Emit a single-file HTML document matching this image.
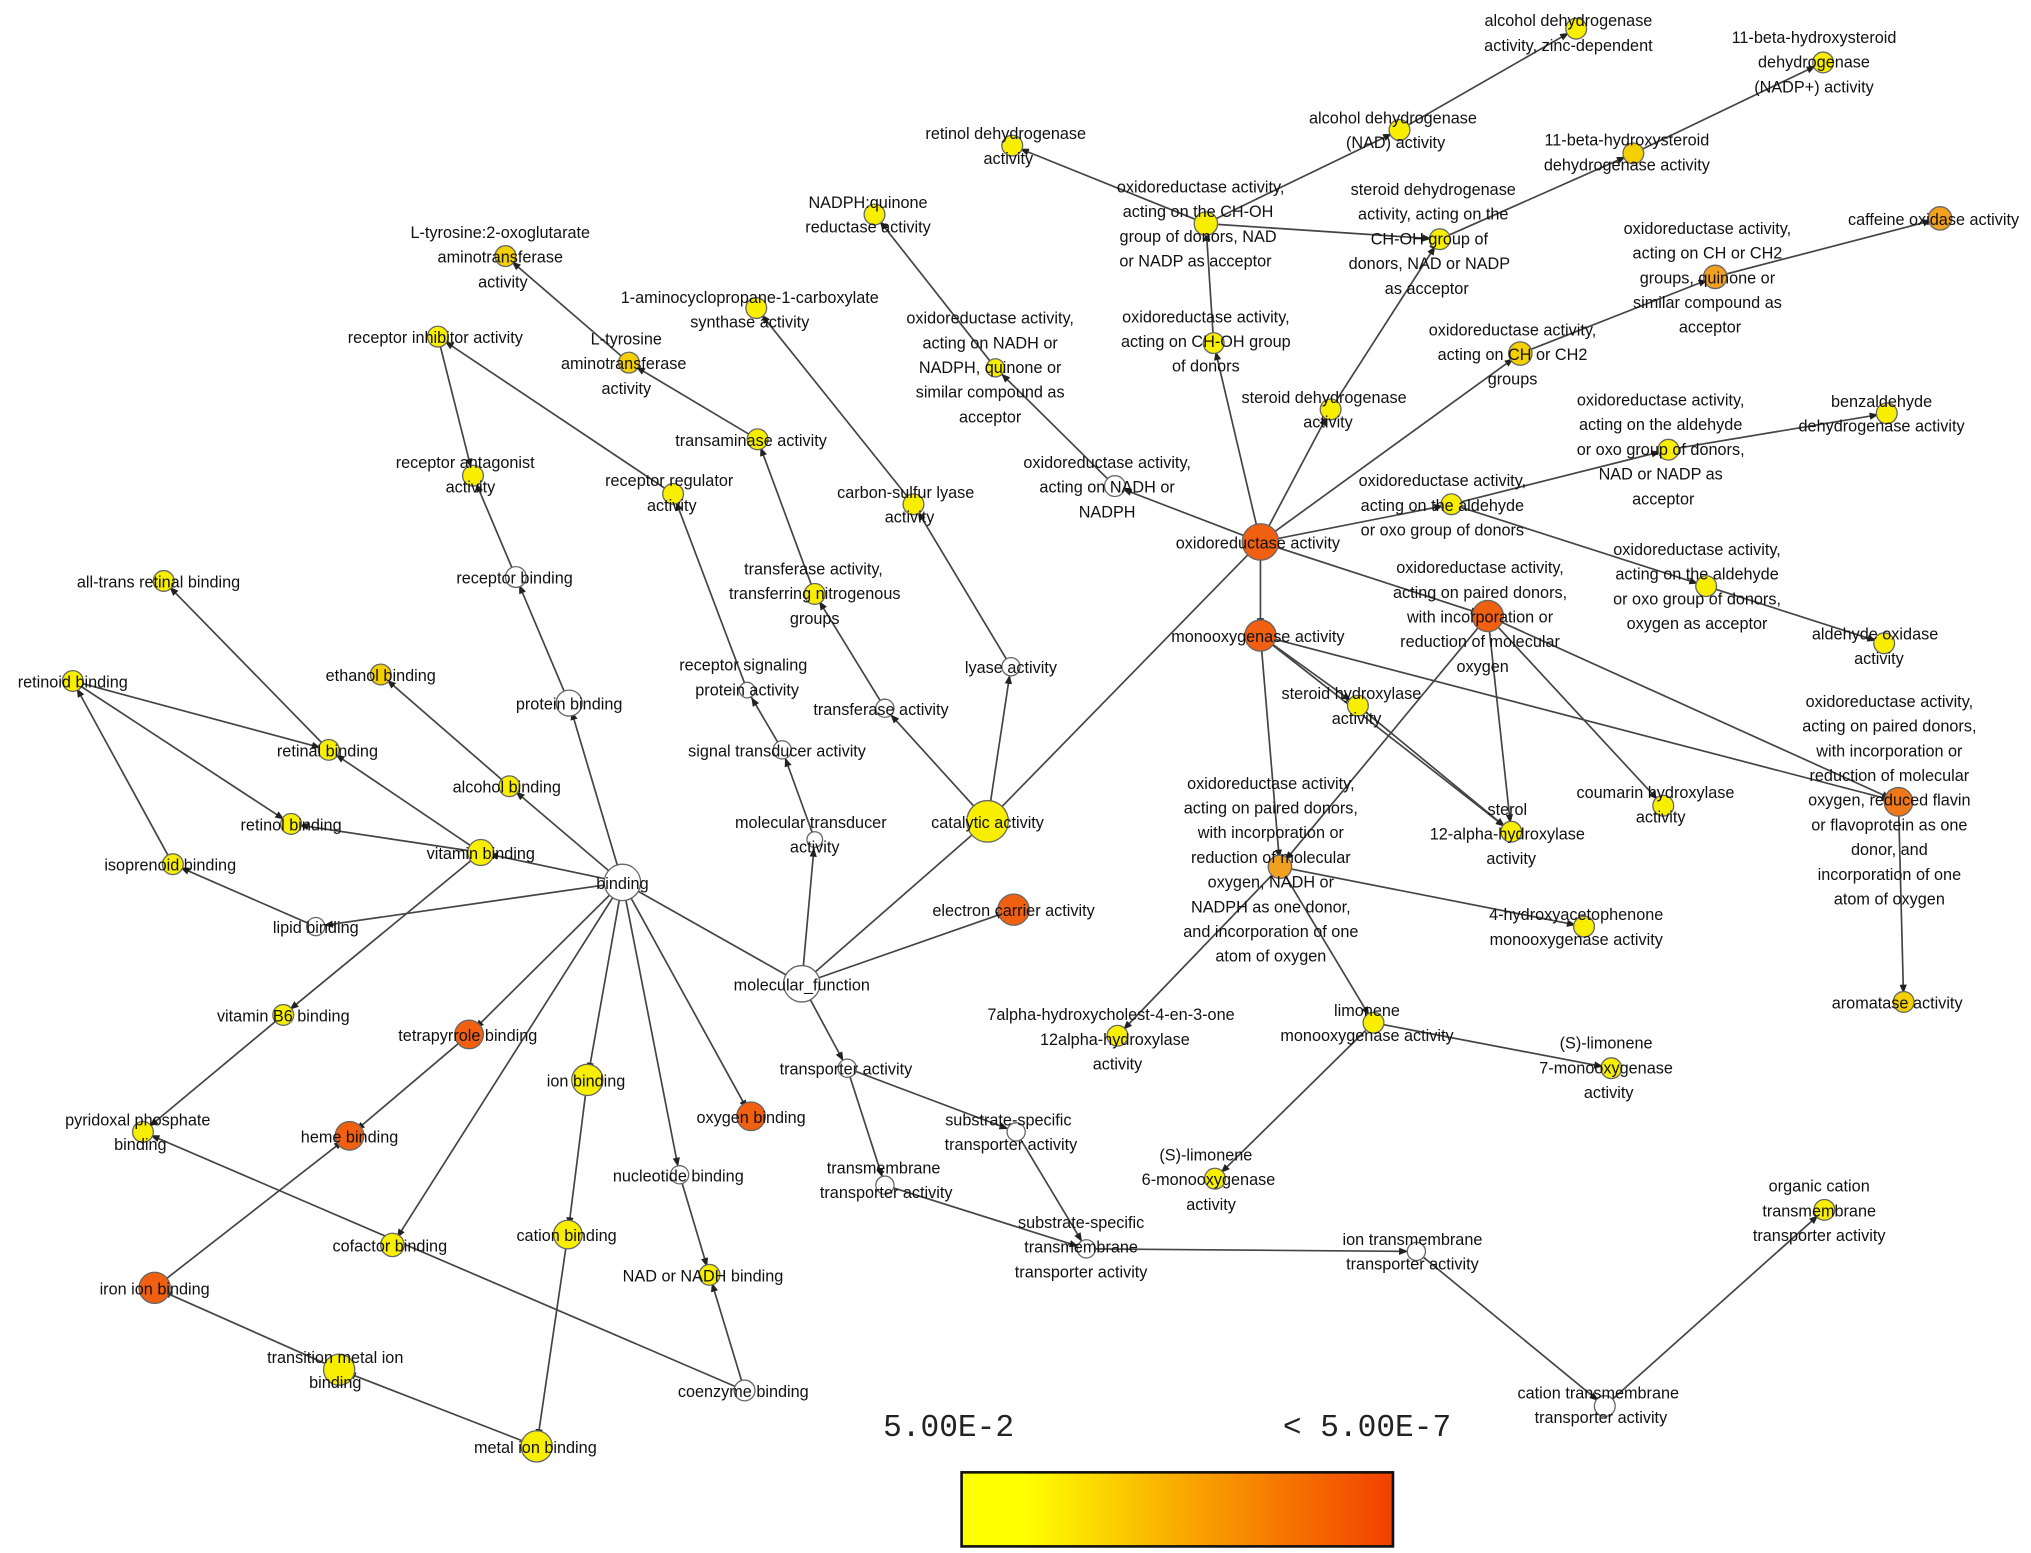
<!DOCTYPE html>
<html><head><meta charset="utf-8"><style>
html,body{margin:0;padding:0;background:#fff;}
svg{display:block}
text{font-family:"Liberation Sans",sans-serif;font-size:12.5px;fill:#111;text-anchor:middle}
line{stroke:#444;stroke-width:1.3}
circle{stroke:#666;stroke-width:1}
.w{fill:#fff}.y{fill:#f7ee00}.y2{fill:#f5d000}.o1{fill:#f2a020}.o{fill:#f06010}.o2{fill:#f07818}
</style></head><body>
<svg width="2031" height="1553" viewBox="0 0 1563 1195" xmlns="http://www.w3.org/2000/svg">
<defs>
<marker id="a" viewBox="0 0 10 10" refX="19" refY="5" markerWidth="7" markerHeight="7" orient="auto" markerUnits="userSpaceOnUse"><path d="M0,1 L10,5 L0,9z" fill="#222"/></marker>
<linearGradient id="g" x1="0" x2="1"><stop offset="0" stop-color="#ffff00"/><stop offset="0.15" stop-color="#ffff00"/><stop offset="0.55" stop-color="#f9a000"/><stop offset="1" stop-color="#f24000"/></linearGradient>
</defs>
<g marker-end="url(#a)">
<line x1="617" y1="757" x2="479" y2="679"/>
<line x1="617" y1="757" x2="760" y2="632"/>
<line x1="617" y1="757" x2="780" y2="700"/>
<line x1="617" y1="757" x2="627" y2="646"/>
<line x1="617" y1="757" x2="652" y2="822"/>
<line x1="479" y1="679" x2="438" y2="541"/>
<line x1="479" y1="679" x2="370" y2="656"/>
<line x1="479" y1="679" x2="392" y2="605"/>
<line x1="479" y1="679" x2="243" y2="713"/>
<line x1="479" y1="679" x2="361" y2="796"/>
<line x1="479" y1="679" x2="452" y2="831"/>
<line x1="479" y1="679" x2="578" y2="859"/>
<line x1="479" y1="679" x2="523" y2="904"/>
<line x1="479" y1="679" x2="302" y2="958"/>
<line x1="361" y1="796" x2="269" y2="874"/>
<line x1="119" y1="991" x2="269" y2="874"/>
<line x1="261" y1="1054" x2="119" y2="991"/>
<line x1="413" y1="1113" x2="261" y2="1054"/>
<line x1="437" y1="950" x2="413" y2="1113"/>
<line x1="452" y1="831" x2="437" y2="950"/>
<line x1="523" y1="904" x2="546" y2="981"/>
<line x1="573" y1="1070" x2="546" y2="981"/>
<line x1="573" y1="1070" x2="110" y2="871"/>
<line x1="218" y1="781" x2="110" y2="871"/>
<line x1="370" y1="656" x2="218" y2="781"/>
<line x1="370" y1="656" x2="253" y2="577"/>
<line x1="370" y1="656" x2="224" y2="634"/>
<line x1="392" y1="605" x2="293" y2="519"/>
<line x1="253" y1="577" x2="126" y2="447"/>
<line x1="56" y1="524" x2="253" y2="577"/>
<line x1="56" y1="524" x2="224" y2="634"/>
<line x1="133" y1="665" x2="56" y2="524"/>
<line x1="243" y1="713" x2="133" y2="665"/>
<line x1="438" y1="541" x2="397" y2="444"/>
<line x1="397" y1="444" x2="364" y2="366"/>
<line x1="337" y1="259" x2="364" y2="366"/>
<line x1="518" y1="380" x2="337" y2="259"/>
<line x1="575" y1="531" x2="518" y2="380"/>
<line x1="602" y1="577" x2="575" y2="531"/>
<line x1="627" y1="646" x2="602" y2="577"/>
<line x1="760" y1="632" x2="681" y2="545"/>
<line x1="760" y1="632" x2="778" y2="513"/>
<line x1="760" y1="632" x2="970" y2="417"/>
<line x1="681" y1="545" x2="627" y2="457"/>
<line x1="627" y1="457" x2="583" y2="338"/>
<line x1="583" y1="338" x2="484" y2="279"/>
<line x1="484" y1="279" x2="389" y2="197"/>
<line x1="778" y1="513" x2="703" y2="388"/>
<line x1="703" y1="388" x2="582" y2="237"/>
<line x1="970" y1="417" x2="858" y2="374"/>
<line x1="858" y1="374" x2="766" y2="283"/>
<line x1="766" y1="283" x2="673" y2="165"/>
<line x1="970" y1="417" x2="934" y2="264"/>
<line x1="934" y1="264" x2="928" y2="172"/>
<line x1="928" y1="172" x2="779" y2="112"/>
<line x1="928" y1="172" x2="1077" y2="100"/>
<line x1="928" y1="172" x2="1108" y2="184"/>
<line x1="1077" y1="100" x2="1213" y2="22"/>
<line x1="1108" y1="184" x2="1257" y2="118"/>
<line x1="1257" y1="118" x2="1403" y2="48"/>
<line x1="970" y1="417" x2="1024" y2="315"/>
<line x1="1024" y1="315" x2="1108" y2="184"/>
<line x1="970" y1="417" x2="1170" y2="272"/>
<line x1="1170" y1="272" x2="1320" y2="213"/>
<line x1="1320" y1="213" x2="1493" y2="168"/>
<line x1="970" y1="417" x2="1117" y2="388"/>
<line x1="1117" y1="388" x2="1284" y2="346"/>
<line x1="1284" y1="346" x2="1452" y2="318"/>
<line x1="1117" y1="388" x2="1313" y2="451"/>
<line x1="1313" y1="451" x2="1450" y2="495"/>
<line x1="970" y1="417" x2="970" y2="489"/>
<line x1="970" y1="417" x2="1145" y2="474"/>
<line x1="970" y1="489" x2="1045" y2="543"/>
<line x1="970" y1="489" x2="985" y2="667"/>
<line x1="970" y1="489" x2="1163" y2="640"/>
<line x1="970" y1="489" x2="1461" y2="617"/>
<line x1="1145" y1="474" x2="1280" y2="620"/>
<line x1="1145" y1="474" x2="1163" y2="640"/>
<line x1="1145" y1="474" x2="985" y2="667"/>
<line x1="1145" y1="474" x2="1461" y2="617"/>
<line x1="1045" y1="543" x2="1163" y2="640"/>
<line x1="1461" y1="617" x2="1465" y2="771"/>
<line x1="985" y1="667" x2="860" y2="797"/>
<line x1="985" y1="667" x2="1219" y2="713"/>
<line x1="985" y1="667" x2="1057" y2="787"/>
<line x1="1057" y1="787" x2="1240" y2="822"/>
<line x1="1057" y1="787" x2="935" y2="907"/>
<line x1="652" y1="822" x2="782" y2="871"/>
<line x1="652" y1="822" x2="681" y2="912"/>
<line x1="782" y1="871" x2="836" y2="961"/>
<line x1="681" y1="912" x2="836" y2="961"/>
<line x1="836" y1="961" x2="1090" y2="963"/>
<line x1="1090" y1="963" x2="1235" y2="1082"/>
<line x1="1235" y1="1082" x2="1404" y2="931"/>
</g>
<g>
<circle class="w" cx="617" cy="757" r="14"/><circle class="w" cx="479" cy="679" r="14"/>
<circle class="y" cx="760" cy="632" r="16"/><circle class="o" cx="970" cy="417" r="14"/>
<circle class="o" cx="970" cy="489" r="12"/><circle class="o" cx="780" cy="700" r="12"/>
<circle class="w" cx="627" cy="646" r="6"/><circle class="w" cx="602" cy="577" r="7"/>
<circle class="w" cx="575" cy="531" r="6"/><circle class="w" cx="681" cy="545" r="7"/>
<circle class="y" cx="627" cy="457" r="8"/><circle class="y" cx="583" cy="338" r="8"/>
<circle class="y2" cx="484" cy="279" r="8"/><circle class="y2" cx="389" cy="197" r="8"/>
<circle class="y" cx="582" cy="237" r="8"/><circle class="w" cx="778" cy="513" r="7"/>
<circle class="y" cx="703" cy="388" r="8"/><circle class="y" cx="673" cy="165" r="8"/>
<circle class="w" cx="858" cy="374" r="8"/><circle class="y" cx="766" cy="283" r="7"/>
<circle class="y" cx="934" cy="264" r="8"/><circle class="y" cx="928" cy="172" r="9"/>
<circle class="y" cx="779" cy="112" r="8"/><circle class="y" cx="1077" cy="100" r="8"/>
<circle class="y" cx="1213" cy="22" r="8"/><circle class="y" cx="1108" cy="184" r="8"/>
<circle class="y2" cx="1257" cy="118" r="8"/><circle class="y" cx="1403" cy="48" r="8"/>
<circle class="y" cx="1024" cy="315" r="8"/><circle class="y2" cx="1170" cy="272" r="9"/>
<circle class="o1" cx="1320" cy="213" r="9"/><circle class="o1" cx="1493" cy="168" r="9"/>
<circle class="y" cx="1117" cy="388" r="8"/><circle class="y" cx="1284" cy="346" r="8"/>
<circle class="y" cx="1452" cy="318" r="8"/><circle class="y" cx="1313" cy="451" r="8"/>
<circle class="y" cx="1450" cy="495" r="8"/><circle class="o" cx="1145" cy="474" r="12"/>
<circle class="o2" cx="1461" cy="617" r="11"/><circle class="y2" cx="1465" cy="771" r="8"/>
<circle class="y" cx="1045" cy="543" r="8"/><circle class="y" cx="1163" cy="640" r="8"/>
<circle class="y" cx="1280" cy="620" r="8"/><circle class="o1" cx="985" cy="667" r="9"/>
<circle class="y" cx="1219" cy="713" r="8"/><circle class="y" cx="860" cy="797" r="8"/>
<circle class="y" cx="1057" cy="787" r="8"/><circle class="y" cx="1240" cy="822" r="8"/>
<circle class="y" cx="935" cy="907" r="8"/><circle class="w" cx="652" cy="822" r="7"/>
<circle class="w" cx="782" cy="871" r="7"/><circle class="w" cx="681" cy="912" r="7"/>
<circle class="w" cx="836" cy="961" r="7"/><circle class="w" cx="1090" cy="963" r="7"/>
<circle class="w" cx="1235" cy="1082" r="8"/><circle class="y" cx="1404" cy="931" r="8"/>
<circle class="w" cx="438" cy="541" r="10"/><circle class="w" cx="397" cy="444" r="8"/>
<circle class="y" cx="364" cy="366" r="8"/><circle class="y" cx="337" cy="259" r="8"/>
<circle class="y" cx="518" cy="380" r="8"/><circle class="y" cx="370" cy="656" r="10"/>
<circle class="y" cx="392" cy="605" r="8"/><circle class="y2" cx="293" cy="519" r="8"/>
<circle class="y" cx="253" cy="577" r="8"/><circle class="y" cx="224" cy="634" r="8"/>
<circle class="y" cx="56" cy="524" r="8"/><circle class="y" cx="126" cy="447" r="8"/>
<circle class="y" cx="133" cy="665" r="8"/><circle class="w" cx="243" cy="713" r="7"/>
<circle class="y" cx="218" cy="781" r="8"/><circle class="y" cx="110" cy="871" r="8"/>
<circle class="o" cx="361" cy="796" r="11"/><circle class="o" cx="269" cy="874" r="11"/>
<circle class="y" cx="452" cy="831" r="12"/><circle class="o" cx="578" cy="859" r="11"/>
<circle class="w" cx="523" cy="904" r="7"/><circle class="y" cx="546" cy="981" r="8"/>
<circle class="y" cx="437" cy="950" r="11"/><circle class="y" cx="302" cy="958" r="9"/>
<circle class="o" cx="119" cy="991" r="12"/><circle class="y" cx="261" cy="1054" r="12"/>
<circle class="y" cx="413" cy="1113" r="12"/><circle class="w" cx="573" cy="1070" r="8"/>
</g>
<g>
<text x="617" y="762">molecular_function</text>
<text x="479" y="684">binding</text>
<text x="760" y="637">catalytic activity</text>
<text x="968" y="422">oxidoreductase activity</text>
<text x="968" y="494">monooxygenase activity</text>
<text x="780" y="705">electron carrier activity</text>
<text x="624" y="637">molecular transducer<tspan x="627" dy="19">activity</tspan></text>
<text x="598" y="582">signal transducer activity</text>
<text x="572" y="516">receptor signaling<tspan x="575" dy="19">protein activity</tspan></text>
<text x="678" y="550">transferase activity</text>
<text x="626" y="442">transferase activity,<tspan x="627" dy="19">transferring nitrogenous</tspan><tspan x="627" dy="19">groups</tspan></text>
<text x="578" y="343">transaminase activity</text>
<text x="482" y="265">L-tyrosine<tspan x="480" dy="19">aminotransferase</tspan><tspan x="482" dy="19">activity</tspan></text>
<text x="385" y="183">L-tyrosine:2-oxoglutarate<tspan x="385" dy="19">aminotransferase</tspan><tspan x="387" dy="19">activity</tspan></text>
<text x="577" y="233">1-aminocyclopropane-1-carboxylate<tspan x="577" dy="19">synthase activity</tspan></text>
<text x="778" y="518">lyase activity</text>
<text x="697" y="383">carbon-sulfur lyase<tspan x="700" dy="19">activity</tspan></text>
<text x="668" y="160">NADPH:quinone<tspan x="668" dy="19">reductase activity</tspan></text>
<text x="852" y="360">oxidoreductase activity,<tspan x="852" dy="19">acting on NADH or</tspan><tspan x="852" dy="19">NADPH</tspan></text>
<text x="762" y="249">oxidoreductase activity,<tspan x="762" dy="19">acting on NADH or</tspan><tspan x="762" dy="19">NADPH, quinone or</tspan><tspan x="762" dy="19">similar compound as</tspan><tspan x="762" dy="19">acceptor</tspan></text>
<text x="928" y="248">oxidoreductase activity,<tspan x="928" dy="19">acting on CH-OH group</tspan><tspan x="928" dy="19">of donors</tspan></text>
<text x="924" y="148">oxidoreductase activity,<tspan x="922" dy="19">acting on the CH-OH</tspan><tspan x="922" dy="19">group of donors, NAD</tspan><tspan x="920" dy="19">or NADP as acceptor</tspan></text>
<text x="774" y="107">retinol dehydrogenase<tspan x="776" dy="19">activity</tspan></text>
<text x="1072" y="95">alcohol dehydrogenase<tspan x="1074" dy="19">(NAD) activity</tspan></text>
<text x="1207" y="20">alcohol dehydrogenase<tspan x="1207" dy="19">activity, zinc-dependent</tspan></text>
<text x="1103" y="150">steroid dehydrogenase<tspan x="1103" dy="19">activity, acting on the</tspan><tspan x="1100" dy="19">CH-OH group of</tspan><tspan x="1100" dy="19">donors, NAD or NADP</tspan><tspan x="1098" dy="19">as acceptor</tspan></text>
<text x="1252" y="112">11-beta-hydroxysteroid<tspan x="1252" dy="19">dehydrogenase activity</tspan></text>
<text x="1396" y="33">11-beta-hydroxysteroid<tspan x="1396" dy="19">dehydrogenase</tspan><tspan x="1396" dy="19">(NADP+) activity</tspan></text>
<text x="1019" y="310">steroid dehydrogenase<tspan x="1022" dy="19">activity</tspan></text>
<text x="1164" y="258">oxidoreductase activity,<tspan x="1164" dy="19">acting on CH or CH2</tspan><tspan x="1164" dy="19">groups</tspan></text>
<text x="1314" y="180">oxidoreductase activity,<tspan x="1314" dy="19">acting on CH or CH2</tspan><tspan x="1314" dy="19">groups, quinone or</tspan><tspan x="1314" dy="19">similar compound as</tspan><tspan x="1316" dy="19">acceptor</tspan></text>
<text x="1488" y="173">caffeine oxidase activity</text>
<text x="1110" y="374">oxidoreductase activity,<tspan x="1110" dy="19">acting on the aldehyde</tspan><tspan x="1110" dy="19">or oxo group of donors</tspan></text>
<text x="1278" y="312">oxidoreductase activity,<tspan x="1278" dy="19">acting on the aldehyde</tspan><tspan x="1278" dy="19">or oxo group of donors,</tspan><tspan x="1278" dy="19">NAD or NADP as</tspan><tspan x="1280" dy="19">acceptor</tspan></text>
<text x="1448" y="313">benzaldehyde<tspan x="1448" dy="19">dehydrogenase activity</tspan></text>
<text x="1306" y="427">oxidoreductase activity,<tspan x="1306" dy="19">acting on the aldehyde</tspan><tspan x="1306" dy="19">or oxo group of donors,</tspan><tspan x="1306" dy="19">oxygen as acceptor</tspan></text>
<text x="1443" y="492">aldehyde oxidase<tspan x="1446" dy="19">activity</tspan></text>
<text x="1139" y="441">oxidoreductase activity,<tspan x="1139" dy="19">acting on paired donors,</tspan><tspan x="1139" dy="19">with incorporation or</tspan><tspan x="1139" dy="19">reduction of molecular</tspan><tspan x="1141" dy="19">oxygen</tspan></text>
<text x="1454" y="544">oxidoreductase activity,<tspan x="1454" dy="19">acting on paired donors,</tspan><tspan x="1454" dy="19">with incorporation or</tspan><tspan x="1454" dy="19">reduction of molecular</tspan><tspan x="1454" dy="19">oxygen, reduced flavin</tspan><tspan x="1454" dy="19">or flavoprotein as one</tspan><tspan x="1454" dy="19">donor, and</tspan><tspan x="1454" dy="19">incorporation of one</tspan><tspan x="1454" dy="19">atom of oxygen</tspan></text>
<text x="1460" y="776">aromatase activity</text>
<text x="1040" y="538">steroid hydroxylase<tspan x="1044" dy="19">activity</tspan></text>
<text x="1160" y="627">sterol<tspan x="1160" dy="19">12-alpha-hydroxylase</tspan><tspan x="1163" dy="19">activity</tspan></text>
<text x="1274" y="614">coumarin hydroxylase<tspan x="1278" dy="19">activity</tspan></text>
<text x="978" y="607">oxidoreductase activity,<tspan x="978" dy="19">acting on paired donors,</tspan><tspan x="978" dy="19">with incorporation or</tspan><tspan x="978" dy="19">reduction of molecular</tspan><tspan x="978" dy="19">oxygen, NADH or</tspan><tspan x="978" dy="19">NADPH as one donor,</tspan><tspan x="978" dy="19">and incorporation of one</tspan><tspan x="978" dy="19">atom of oxygen</tspan></text>
<text x="1213" y="708">4-hydroxyacetophenone<tspan x="1213" dy="19">monooxygenase activity</tspan></text>
<text x="855" y="785">7alpha-hydroxycholest-4-en-3-one<tspan x="858" dy="19">12alpha-hydroxylase</tspan><tspan x="860" dy="19">activity</tspan></text>
<text x="1052" y="782">limonene<tspan x="1052" dy="19">monooxygenase activity</tspan></text>
<text x="1236" y="807">(S)-limonene<tspan x="1236" dy="19">7-monooxygenase</tspan><tspan x="1238" dy="19">activity</tspan></text>
<text x="928" y="893">(S)-limonene<tspan x="930" dy="19">6-monooxygenase</tspan><tspan x="932" dy="19">activity</tspan></text>
<text x="651" y="827">transporter activity</text>
<text x="776" y="866">substrate-specific<tspan x="778" dy="19">transporter activity</tspan></text>
<text x="680" y="903">transmembrane<tspan x="682" dy="19">transporter activity</tspan></text>
<text x="832" y="945">substrate-specific<tspan x="832" dy="19">transmembrane</tspan><tspan x="832" dy="19">transporter activity</tspan></text>
<text x="1087" y="958">ion transmembrane<tspan x="1087" dy="19">transporter activity</tspan></text>
<text x="1230" y="1076">cation transmembrane<tspan x="1232" dy="19">transporter activity</tspan></text>
<text x="1400" y="917">organic cation<tspan x="1400" dy="19">transmembrane</tspan><tspan x="1400" dy="19">transporter activity</tspan></text>
<text x="438" y="546">protein binding</text>
<text x="396" y="449">receptor binding</text>
<text x="358" y="360">receptor antagonist<tspan x="362" dy="19">activity</tspan></text>
<text x="335" y="264">receptor inhibitor activity</text>
<text x="515" y="374">receptor regulator<tspan x="517" dy="19">activity</tspan></text>
<text x="370" y="661">vitamin binding</text>
<text x="390" y="610">alcohol binding</text>
<text x="293" y="524">ethanol binding</text>
<text x="252" y="582">retinal binding</text>
<text x="224" y="639">retinol binding</text>
<text x="56" y="529">retinoid binding</text>
<text x="122" y="452">all-trans retinal binding</text>
<text x="131" y="670">isoprenoid binding</text>
<text x="243" y="718">lipid binding</text>
<text x="218" y="786">vitamin B6 binding</text>
<text x="106" y="866">pyridoxal phosphate<tspan x="108" dy="19">binding</tspan></text>
<text x="360" y="801">tetrapyrrole binding</text>
<text x="269" y="879">heme binding</text>
<text x="451" y="836">ion binding</text>
<text x="578" y="864">oxygen binding</text>
<text x="522" y="909">nucleotide binding</text>
<text x="541" y="986">NAD or NADH binding</text>
<text x="436" y="955">cation binding</text>
<text x="300" y="963">cofactor binding</text>
<text x="119" y="996">iron ion binding</text>
<text x="258" y="1049">transition metal ion<tspan x="258" dy="19">binding</tspan></text>
<text x="412" y="1118">metal ion binding</text>
<text x="572" y="1075">coenzyme binding</text>
</g>
<text x="730" y="1105" style="font-family:'Liberation Mono',monospace;font-size:24px;fill:#222">5.00E-2</text>
<text x="1052" y="1105" style="font-family:'Liberation Mono',monospace;font-size:24px;fill:#222">&lt; 5.00E-7</text>
<rect x="740" y="1133" width="332" height="57" fill="url(#g)" stroke="#111" stroke-width="2"/>
</svg>
</body></html>
